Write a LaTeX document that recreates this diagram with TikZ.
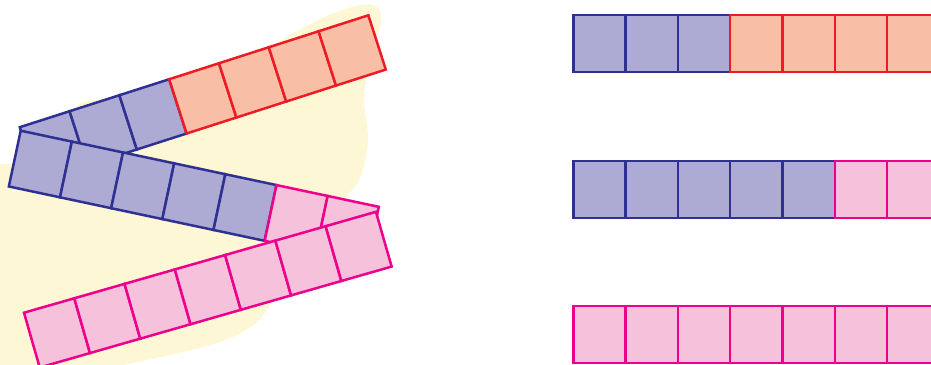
\documentclass[tikz,border=0pt]{standalone}
\usetikzlibrary{positioning}
\definecolor{cnavy}{HTML}{2E3192}
\definecolor{clav}{HTML}{ADAAD3}
\definecolor{cred}{HTML}{ED1C24}
\definecolor{cpeach}{HTML}{F9BFA6}
\definecolor{cmag}{HTML}{EC008C}
\definecolor{cpink}{HTML}{F6C1DA}
\definecolor{cyellow}{HTML}{FEF7D5}
\tikzset{
  every picture/.style={line width=2.5pt},
  bluecell/.style={draw=cnavy, fill=clav},
  redcell/.style={draw=cred, fill=cpeach},
  pinkcell/.style={draw=cmag, fill=cpink},
  blob/.style={fill=cyellow, draw=none},
}
\newcommand{\tilestrip}[5]{% #1 = top-left corner, #2 = angle, #3 = cells of first kind, #4/#5 = cell styles
  \begin{scope}[shift={#1}, rotate=#2]
    \foreach \i in {1,...,7} {
      \ifnum\i>#3 \path[#5] (\i*52.3-52.3,0) rectangle ++(52.3,57);
      \else \path[#4] (\i*52.3-52.3,0) rectangle ++(52.3,57); \fi }
  \end{scope}}

\begin{document}
\begin{tikzpicture}[x=1pt, y=-1pt]
  \useasboundingbox (0,0) rectangle (931,364);
  \clip (0,0) rectangle (931,364);
  % background patch
  \fill[blob] plot[smooth cycle, tension=0.55] coordinates {
    (-30,390) (-20,185) (14,162) (45,134) (72,110) (86,101) (110,98) (160,84)
    (220,64) (270,46) (297,31) (327,16) (360,5) (377,7) (381,22) (372,55)
    (364,95) (368,140) (360,178) (340,205) (305,255) (275,298) (255,324)
    (220,342) (170,355) (110,368) (40,385)};
  % folded strips
  \tilestrip{(19.8,127.2)}{17.8}{3}{bluecell}{redcell}
  \tilestrip{(20.7,130.7)}{-12}{5}{bluecell}{pinkcell}
  \tilestrip{(24,312.7)}{16}{0}{bluecell}{pinkcell}
  % straight strips
  \tilestrip{(573.3,15)}{0}{3}{bluecell}{redcell}
  \tilestrip{(573.3,161)}{0}{5}{bluecell}{pinkcell}
  \tilestrip{(573.3,306)}{0}{0}{bluecell}{pinkcell}
\end{tikzpicture}
\end{document}
